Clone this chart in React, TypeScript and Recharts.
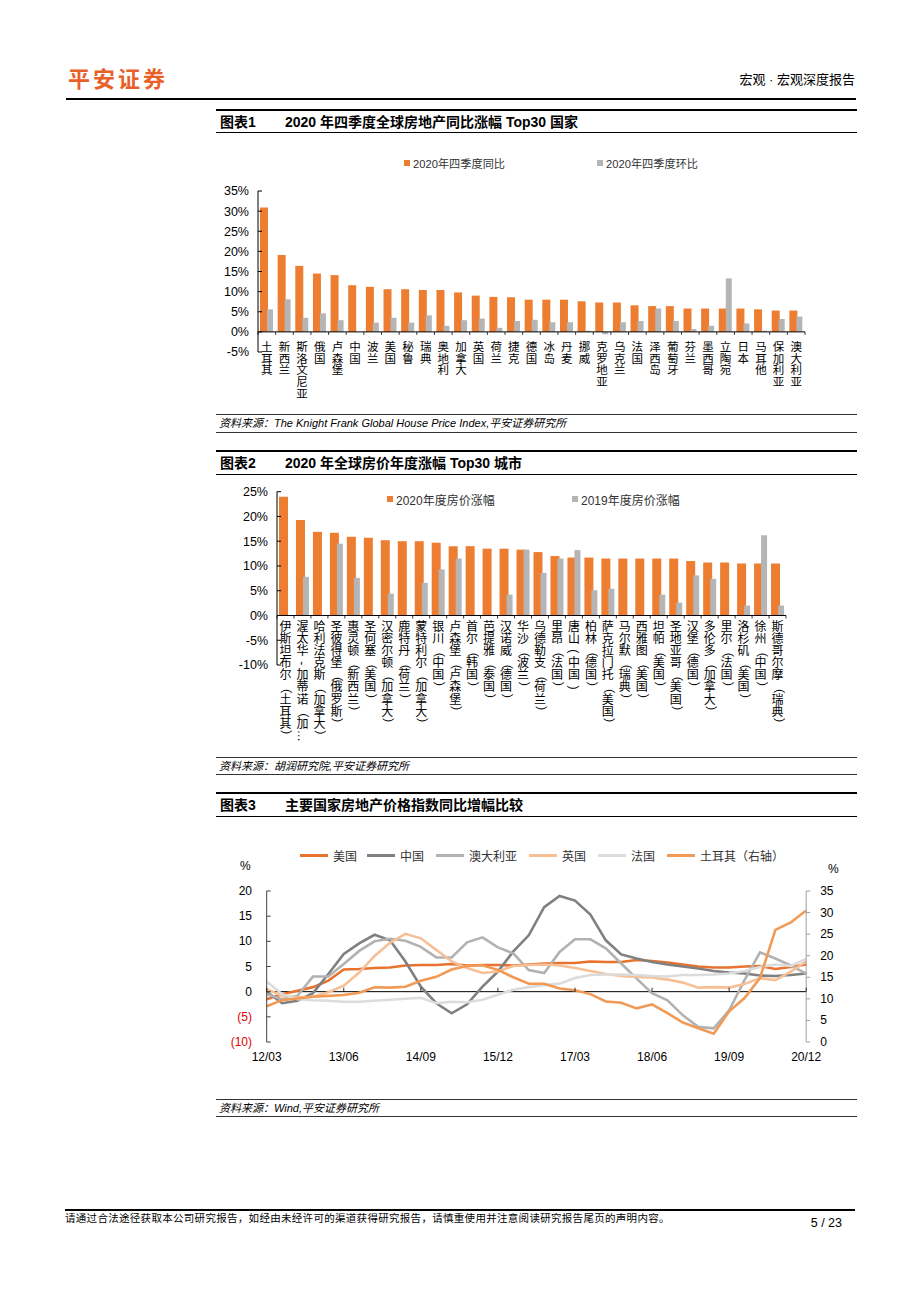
import React from 'react';
import { BarChart, Bar, LineChart, Line, XAxis, YAxis, ReferenceLine, Legend } from 'recharts';

const FONT = '"Liberation Sans", Arial, "Noto Sans CJK SC", sans-serif';
const ORANGE = '#ED7D31';
const GRAY = '#B5B5B5';

// 图表1：2020年四季度全球房地产同比涨幅 Top30 国家
const countries = ['土耳其', '新西兰', '斯洛文尼亚', '俄国', '卢森堡', '中国', '波兰', '美国', '秘鲁', '瑞典', '奥地利', '加拿大', '英国', '荷兰', '捷克', '德国', '冰岛', '丹麦', '挪威', '克罗地亚', '乌克兰', '法国', '泽西岛', '葡萄牙', '芬兰', '墨西哥', '立陶宛', '日本', '马耳他', '保加利亚', '澳大利亚'];
const yoyQ4 = [30.9, 19.1, 16.4, 14.5, 14.1, 11.6, 11.2, 10.6, 10.6, 10.4, 10.4, 9.8, 9.0, 8.7, 8.6, 8.0, 8.0, 8.0, 7.6, 7.3, 7.3, 6.6, 6.4, 6.4, 5.8, 5.8, 5.8, 5.8, 5.6, 5.3, 5.3];
const qoqQ4 = [5.6, 8.1, 3.5, 4.6, 2.9, null, 2.3, 3.5, 2.3, 4.1, 1.5, 2.9, 3.3, 1.0, 2.7, 3.0, 2.4, 2.4, 0.3, -0.6, 2.4, 2.7, 5.8, 2.7, 0.7, 1.5, 13.3, 2.1, 0.3, 3.2, 3.8];
const ticks1 = [-5, 0, 5, 10, 15, 20, 25, 30, 35];

// 图表2：2020年全球房价年度涨幅 Top30 城市
const cities = ['伊斯坦布尔（土耳其）', '渥太华-加蒂诺（加…', '哈利法克斯（加拿大）', '圣彼得堡（俄罗斯）', '惠灵顿（新西兰）', '圣何塞（美国）', '汉密尔顿（加拿大）', '鹿特丹（荷兰）', '蒙特利尔（加拿大）', '银川（中国）', '卢森堡（卢森堡）', '首尔（韩国）', '芭提雅（泰国）', '汉诺威（德国）', '华沙（波兰）', '乌德勒支（荷兰）', '里昂（法国）', '唐山(中国)', '柏林（德国）', '萨克拉门托（美国）', '马尔默（瑞典）', '西雅图（美国）', '坦帕（美国）', '圣地亚哥（美国）', '汉堡（德国）', '多伦多（加拿大）', '里尔（法国）', '洛杉矶（美国）', '徐州（中国）', '斯德哥尔摩（瑞典）'];
const rise2020 = [24.0, 19.3, 16.9, 16.7, 15.9, 15.7, 15.2, 15.0, 15.0, 14.7, 14.0, 14.0, 13.5, 13.5, 13.3, 12.8, 12.0, 11.7, 11.7, 11.5, 11.5, 11.5, 11.5, 11.5, 11.0, 10.7, 10.7, 10.5, 10.5, 10.5];
const rise2019 = [null, 7.8, null, 14.5, 7.6, null, 4.4, null, 6.6, 9.3, 11.5, null, null, 4.2, 13.3, 8.6, 11.5, 13.2, 5.1, 5.4, null, null, 4.2, 2.6, 8.1, 7.4, null, 2.0, 16.2, 2.0];
const ticks2 = [-10, -5, 0, 5, 10, 15, 20, 25];

// 图表3：主要国家房地产价格指数同比增幅（%）
const quarters = ['12/03', '12/06', '12/09', '12/12', '13/03', '13/06', '13/09', '13/12', '14/03', '14/06', '14/09', '14/12', '15/03', '15/06', '15/09', '15/12', '16/03', '16/06', '16/09', '16/12', '17/03', '17/06', '17/09', '17/12', '18/03', '18/06', '18/09', '18/12', '19/03', '19/06', '19/09', '19/12', '20/03', '20/06', '20/09', '20/12'];
const usIdx = [-1.5, -0.5, 0.2, 0.9, 2.2, 4.4, 4.5, 4.7, 4.8, 5.2, 5.3, 5.3, 5.5, 5.2, 5.3, 5.3, 5.2, 5.4, 5.6, 5.7, 5.7, 6.0, 5.9, 5.9, 6.3, 6.1, 5.8, 5.4, 5.0, 4.8, 4.8, 5.0, 5.1, 4.5, 4.9, 5.4];
const chinaIdx = [0, -2.3, -1.8, -0.3, 3.5, 7.5, 9.6, 11.3, 10.2, 6.0, 1.0, -2.3, -4.3, -2.5, 1.0, 4.0, 8.0, 11.2, 16.8, 19.0, 18.1, 15.3, 10.2, 7.4, 6.6, 5.9, 5.4, 5.0, 4.6, 4.1, 3.8, 3.6, 3.2, 3.1, 3.3, 3.6];
const ausIdx = [-0.5, -1.5, -0.8, 3.0, 3.0, 5.5, 8.1, 10.0, 10.5, 10.1, 8.9, 6.8, 6.8, 9.8, 10.8, 8.8, 7.6, 4.3, 3.7, 7.9, 10.4, 10.4, 8.6, 5.6, 2.6, -0.3, -1.7, -4.7, -7.0, -7.3, -3.7, 2.3, 7.8, 6.6, 5.2, 3.6];
const ukIdx = [0.5, -0.8, -1.1, -1.0, -0.1, 1.2, 3.8, 7.1, 9.7, 11.5, 10.6, 8.3, 6.0, 4.7, 3.7, 4.0, 5.1, 5.3, 5.4, 5.2, 4.7, 4.1, 3.5, 3.1, 2.9, 2.8, 2.4, 1.8, 0.8, 0.9, 0.8, 1.5, 2.7, 2.3, 4.0, 6.0];
const franceIdx = [2.0, -0.5, -1.5, -1.7, -1.8, -2.0, -2.0, -1.8, -1.6, -1.4, -1.2, -2.3, -2.0, -2.1, -1.6, -0.6, 0.4, 0.9, 1.3, 1.6, 2.7, 3.3, 3.4, 3.4, 3.3, 3.1, 3.0, 3.3, 3.3, 3.4, 3.6, 4.1, 4.9, 5.4, 5.1, 6.5];
const turkeyIdx = [8.3, 9.7, 10.1, 10.5, 10.7, 10.9, 11.4, 12.7, 12.6, 12.8, 14.2, 15.1, 16.8, 17.6, 17.8, 16.7, 15.0, 13.5, 13.5, 12.4, 12.0, 11.1, 9.4, 9.1, 7.8, 8.7, 6.7, 4.5, 3.2, 1.9, 7.1, 10.2, 14.8, 26.0, 27.7, 30.5];
const leftTicks3 = [-10, -5, 0, 5, 10, 15, 20];
const rightTicks3 = [0, 5, 10, 15, 20, 25, 30, 35];

const series3 = [
  { key: 'us', name: '美国', color: '#E8732F' },
  { key: 'china', name: '中国', color: '#808080' },
  { key: 'aus', name: '澳大利亚', color: '#B2B2B2' },
  { key: 'uk', name: '英国', color: '#F7BF95' },
  { key: 'france', name: '法国', color: '#DCDCDC' },
  { key: 'turkey', name: '土耳其（右轴）', color: '#F19A56' },
];

const data1 = countries.map((name, i) => ({ name, yoy: yoyQ4[i], qoq: qoqQ4[i] }));
const data2 = cities.map((name, i) => ({ name, r2020: rise2020[i], r2019: rise2019[i] }));
const data3 = quarters.map((q, i) => ({
  q, us: usIdx[i], china: chinaIdx[i], aus: ausIdx[i], uk: ukIdx[i], france: franceIdx[i], turkey: turkeyIdx[i],
}));

// chart geometry
const C1 = { w: 620, h: 280, top: 51, right: 15, yw: 58, xh: 68 };
const plotH1 = C1.h - C1.top - C1.xh;
const zero1 = C1.top + (plotH1 * 35) / 40;
const band1 = (C1.w - C1.yw - C1.right) / countries.length;

const C2 = { w: 620, h: 290, top: 21.7, right: 34, yw: 77, xh: 95 };
const plotH2 = C2.h - C2.top - C2.xh;
const zero2 = C2.top + (plotH2 * 25) / 35;
const band2 = (C2.w - C2.yw - C2.right) / cities.length;

const C3 = { w: 640, h: 250, top: 61, lw: 66.7, rw: 33.8, xh: 38 };
const plotH3 = C3.h - C3.top - C3.xh;
const zero3 = C3.top + (plotH3 * 20) / 30;

const ROTATE = new Set(['（', '）', '(', ')', '…', '-', '—']);

function VTick(props: any) {
  const { x, payload, index, zeroY, first, step, size, band, count } = props;
  const chars = Array.from(String(payload.value));
  return (
    <g>
      <line x1={x - band / 2} x2={x - band / 2} y1={zeroY} y2={zeroY + 3} stroke="#000" strokeWidth={0.8} />
      {index === count - 1 && (
        <line x1={x + band / 2} x2={x + band / 2} y1={zeroY} y2={zeroY + 3} stroke="#000" strokeWidth={0.8} />
      )}
      {chars.map((c, i) => {
        const cy = zeroY + first + i * step;
        return (
          <text
            key={i}
            x={x}
            y={cy}
            textAnchor="middle"
            dominantBaseline="central"
            fontSize={size}
            fontFamily={FONT}
            fill="#000"
            transform={ROTATE.has(c) ? `rotate(90 ${x} ${cy})` : undefined}
          >
            {c}
          </text>
        );
      })}
    </g>
  );
}

const Txt = ({ x, y, size = 12, bold, italic, color = '#000', anchor = 'start', spacing, children }: any) => {
  const h = Math.ceil(size * 1.5);
  const style: React.CSSProperties = {
    position: 'absolute', top: y - h / 2, height: h, lineHeight: `${h}px`, fontSize: size, fontFamily: FONT,
    color, fontWeight: bold ? 700 : 400, fontStyle: italic ? 'italic' : 'normal', whiteSpace: 'nowrap', letterSpacing: spacing,
  };
  if (anchor === 'end') style.right = 920 - x;
  else style.left = x;
  return <div style={style}>{children}</div>;
};

const HLine = ({ x1 = 216, x2 = 857, y, w = 1, color = '#000' }: any) => (
  <div style={{ position: 'absolute', left: x1, top: y - w / 2, width: x2 - x1, height: w, background: color }} />
);

const Swatch = ({ left, color, label, size }: any) => (
  <div style={{ position: 'absolute', left, top: 0, display: 'flex', alignItems: 'center', height: 14, whiteSpace: 'nowrap' }}>
    <span style={{ display: 'inline-block', width: 6, height: 6, background: color, marginRight: 3 }} />
    <span style={{ fontSize: size, fontFamily: FONT, color: '#333' }}>{label}</span>
  </div>
);

const legend1 = () => (
  <div style={{ position: 'relative', height: 14 }}>
    <Swatch left={0} color={ORANGE} label="2020年四季度同比" size={11.2} />
    <Swatch left={193} color={GRAY} label="2020年四季度环比" size={11.2} />
  </div>
);

const legend2 = () => (
  <div style={{ position: 'relative', height: 14 }}>
    <Swatch left={0} color={ORANGE} label="2020年度房价涨幅" size={12} />
    <Swatch left={185} color={GRAY} label="2019年度房价涨幅" size={12} />
  </div>
);

const legend3Pos = [0, 67, 136, 229, 298, 367];
const legend3 = () => (
  <div style={{ position: 'relative', height: 16 }}>
    {series3.map((s, i) => (
      <div key={s.key} style={{ position: 'absolute', left: legend3Pos[i], top: 0, height: 16, display: 'flex', alignItems: 'center', whiteSpace: 'nowrap' }}>
        <span style={{ display: 'inline-block', width: 28, height: 3, background: s.color, marginRight: 5 }} />
        <span style={{ fontSize: 12, fontFamily: FONT, color: '#333' }}>{s.name}</span>
      </div>
    ))}
  </div>
);

const LeftTick3 = (p: any) => {
  const v = p.payload.value;
  return (
    <text x={p.x} y={p.y} textAnchor="end" dominantBaseline="central" fontSize={12} fontFamily={FONT} fill={v < 0 ? '#E00000' : '#000'}>
      {v < 0 ? `(${-v})` : v}
    </text>
  );
};

const RightTick3 = (p: any) => (
  <text x={p.x} y={p.y} textAnchor="start" dominantBaseline="central" fontSize={12} fontFamily={FONT} fill="#000">
    {p.payload.value}
  </text>
);

const QTick = (p: any) => (
  <g>
    <line x1={p.x} x2={p.x} y1={zero3 - 4} y2={zero3} stroke="#000" strokeWidth={0.8} />
    <text x={p.x} y={C3.top + plotH3 + 15} textAnchor="middle" dominantBaseline="central" fontSize={12} fontFamily={FONT} fill="#000">
      {p.payload.value}
    </text>
  </g>
);

const axisTick = { fontSize: 12.5, fill: '#000', fontFamily: FONT };

function Chart1() {
  return (
    <div style={{ position: 'absolute', left: 200, top: 140 }}>
      <BarChart width={C1.w} height={C1.h} data={data1} margin={{ top: C1.top, right: C1.right, left: 0, bottom: 0 }} barGap={-1}>
        <XAxis
          dataKey="name"
          height={C1.xh}
          axisLine={false}
          tickLine={false}
          interval={0}
          tick={(p: any) => <VTick {...p} zeroY={zero1} first={15} step={11.7} size={11.5} band={band1} count={countries.length} />}
        />
        <YAxis
          width={C1.yw}
          domain={[-5, 35]}
          ticks={ticks1}
          interval={0}
          tickFormatter={(v: number) => `${v}%`}
          tick={axisTick}
          axisLine={{ stroke: '#000' }}
          tickLine={{ stroke: '#000' }}
          tickSize={-4}
          tickMargin={13}
        />
        <ReferenceLine y={0} stroke="#000" strokeWidth={1} />
        <Legend layout="vertical" align="center" verticalAlign="middle" content={legend1} wrapperStyle={{ left: 204, top: 16, width: 400 }} />
        <Bar dataKey="yoy" fill={ORANGE} barSize={8} isAnimationActive={false} />
        <Bar dataKey="qoq" fill={GRAY} barSize={6} isAnimationActive={false} />
      </BarChart>
    </div>
  );
}

function Chart2() {
  return (
    <div style={{ position: 'absolute', left: 200, top: 470 }}>
      <BarChart width={C2.w} height={C2.h} data={data2} margin={{ top: C2.top, right: C2.right, left: 0, bottom: 0 }} barGap={-2}>
        <XAxis
          dataKey="name"
          height={C2.xh}
          axisLine={false}
          tickLine={false}
          interval={0}
          tick={(p: any) => <VTick {...p} zeroY={zero2} first={11.5} step={12.1} size={12} band={band2} count={cities.length} />}
        />
        <YAxis
          width={C2.yw}
          domain={[-10, 25]}
          ticks={ticks2}
          interval={0}
          tickFormatter={(v: number) => `${v}%`}
          tick={axisTick}
          axisLine={{ stroke: '#000' }}
          tickLine={{ stroke: '#000' }}
          tickSize={-4}
          tickMargin={13}
        />
        <ReferenceLine y={0} stroke="#000" strokeWidth={1} />
        <Legend layout="vertical" align="center" verticalAlign="middle" content={legend2} wrapperStyle={{ left: 187, top: 22, width: 400 }} />
        <Bar dataKey="r2020" fill={ORANGE} barSize={9} isAnimationActive={false} />
        <Bar dataKey="r2019" fill={GRAY} barSize={6} isAnimationActive={false} />
      </BarChart>
    </div>
  );
}

function Chart3() {
  return (
    <div style={{ position: 'absolute', left: 200, top: 830 }}>
      <LineChart width={C3.w} height={C3.h} data={data3} margin={{ top: C3.top, right: 0, left: 0, bottom: 0 }}>
        <XAxis dataKey="q" height={C3.xh} axisLine={false} tickLine={false} interval={4} tick={QTick} />
        <YAxis
          yAxisId="left"
          width={C3.lw}
          domain={[-10, 20]}
          ticks={leftTicks3}
          interval={0}
          tick={LeftTick3}
          axisLine={{ stroke: '#404040' }}
          tickLine={{ stroke: '#404040' }}
          tickSize={-4}
          tickMargin={18.7}
        />
        <YAxis
          yAxisId="right"
          orientation="right"
          width={C3.rw}
          domain={[0, 35]}
          ticks={rightTicks3}
          interval={0}
          tick={RightTick3}
          axisLine={{ stroke: '#A0A0A0' }}
          tickLine={{ stroke: '#A0A0A0' }}
          tickSize={4}
          tickMargin={10}
        />
        <ReferenceLine yAxisId="left" y={0} stroke="#000" strokeWidth={1} />
        <Legend layout="vertical" align="center" verticalAlign="middle" content={legend3} wrapperStyle={{ left: 100, top: 17, width: 520 }} />
        {series3.map((s) => (
          <Line
            key={s.key}
            yAxisId={s.key === 'turkey' ? 'right' : 'left'}
            dataKey={s.key}
            name={s.name}
            stroke={s.color}
            strokeWidth={2.6}
            dot={false}
            type="linear"
            isAnimationActive={false}
          />
        ))}
      </LineChart>
    </div>
  );
}

export default function App() {
  return (
    <div style={{ position: 'absolute', left: 0, top: 0, width: 920, height: 1302, background: '#fff', fontFamily: FONT }}>
      {/* header */}
      <Txt x={68} y={79} size={22} bold color="#E9612A" spacing={3}>平安证券</Txt>
      <Txt x={855} y={80} size={13} anchor="end">宏观 · 宏观深度报告</Txt>
      <HLine x1={66} x2={856} y={99} w={1.5} />

      {/* 图表1 */}
      <HLine y={110} w={1.5} />
      <Txt x={220} y={122} size={14} bold>图表1</Txt>
      <Txt x={285} y={122} size={14} bold>2020 年四季度全球房地产同比涨幅 Top30 国家</Txt>
      <HLine y={132} w={1} />
      <Chart1 />
      <HLine y={414} w={0.8} color="#333" />
      <Txt x={219} y={423.5} size={11} italic>资料来源：The Knight Frank Global House Price Index,平安证券研究所</Txt>
      <HLine y={432} w={0.8} color="#333" />

      {/* 图表2 */}
      <HLine y={451} w={1.5} />
      <Txt x={220} y={463} size={14} bold>图表2</Txt>
      <Txt x={285} y={463} size={14} bold>2020 年全球房价年度涨幅 Top30 城市</Txt>
      <HLine y={474} w={1} />
      <Chart2 />
      <HLine y={757} w={0.8} color="#333" />
      <Txt x={219} y={766} size={11} italic>资料来源：胡润研究院,平安证券研究所</Txt>
      <HLine y={774} w={0.8} color="#333" />

      {/* 图表3 */}
      <HLine y={793} w={1.5} />
      <Txt x={220} y={805} size={14} bold>图表3</Txt>
      <Txt x={285} y={805} size={14} bold>主要国家房地产价格指数同比增幅比较</Txt>
      <HLine y={816} w={1} />
      <Txt x={240} y={866} size={12}>%</Txt>
      <Txt x={828} y={869} size={12}>%</Txt>
      <Chart3 />
      <HLine y={1099} w={0.8} color="#333" />
      <Txt x={219} y={1108} size={11} italic>资料来源：Wind,平安证券研究所</Txt>
      <HLine y={1116} w={0.8} color="#333" />

      {/* footer */}
      <HLine x1={65} x2={855} y={1210} w={1.2} />
      <Txt x={65} y={1218} size={10.5} spacing={0.3}>请通过合法途径获取本公司研究报告，如经由未经许可的渠道获得研究报告，请慎重使用并注意阅读研究报告尾页的声明内容。</Txt>
      <Txt x={842} y={1223} size={12.5} anchor="end">5 / 23</Txt>
    </div>
  );
}
